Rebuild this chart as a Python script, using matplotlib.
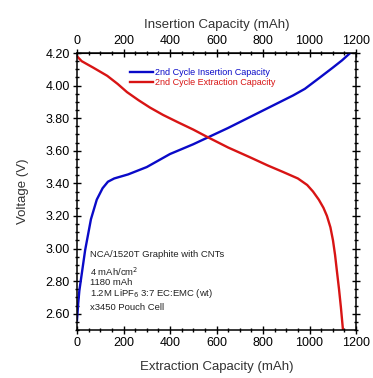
import matplotlib
matplotlib.use("Agg")
import matplotlib.pyplot as plt
from matplotlib.ticker import MultipleLocator

plt.rcParams['font.family'] = ['Liberation Sans', 'DejaVu Sans']

# 2nd cycle insertion (top axis)
ins_cap = [0, 5, 10, 20, 35, 60, 85, 110, 133, 160, 220, 300, 350, 400, 450, 500,
           560, 650, 720, 790, 860, 930, 980, 1045, 1100, 1140, 1175]
ins_v = [2.56, 2.66, 2.74, 2.84, 2.99, 3.18, 3.30, 3.37, 3.41, 3.43, 3.455, 3.50,
         3.54, 3.58, 3.61, 3.64, 3.68, 3.74, 3.79, 3.84, 3.89, 3.94, 3.98, 4.05,
         4.11, 4.155, 4.20]

# 2nd cycle extraction (bottom axis)
ext_cap = [0, 20, 70, 130, 175, 215, 265, 314, 370, 434, 500, 560, 650, 744, 820,
           886, 950, 990, 1015, 1040, 1060, 1075, 1090, 1101, 1110, 1118, 1127,
           1135, 1144]
ext_v = [4.18, 4.15, 4.11, 4.06, 4.01, 3.96, 3.91, 3.865, 3.82, 3.775, 3.73, 3.685,
         3.62, 3.56, 3.51, 3.47, 3.43, 3.39, 3.35, 3.30, 3.25, 3.20, 3.13, 3.05,
         2.96, 2.86, 2.75, 2.64, 2.50]

x_ticks = [0, 200, 400, 600, 800, 1000, 1200]
y_ticks = [2.60, 2.80, 3.00, 3.20, 3.40, 3.60, 3.80, 4.00, 4.20]

info = ["NCA/1520T Graphite with CNTs",
        "4 mAh/cm$^2$",
        "1180 mAh",
        "1.2M LiPF$_6$ 3:7 EC:EMC (wt)",
        "x3450 Pouch Cell"]

W, H = 373, 378
fig = plt.figure(figsize=(W / 100, H / 100), dpi=100)
ax = fig.add_axes([77 / W, 1 - 330 / H, 279 / W, 277 / H])

ax.plot(ins_cap, ins_v, color='#0a0ac8', lw=1.7, label='2nd Cycle Insertion Capacity')
ax.plot(ext_cap, ext_v, color='#d81414', lw=1.7, label='2nd Cycle Extraction Capacity')

ax.set_xlim(0, 1200)
ax.set_ylim(2.50, 4.20)
ax.set_xticks(x_ticks)
ax.set_yticks(y_ticks)
ax.set_yticklabels(['%.2f' % v for v in y_ticks])
ax.xaxis.set_minor_locator(MultipleLocator(50))
ax.yaxis.set_minor_locator(MultipleLocator(0.05))
ax.tick_params(which='both', direction='inout', labelsize=9, right=True, pad=2)
ax.tick_params(which='major', length=6, width=1)
ax.tick_params(which='minor', length=3.5, width=1)
for s in ax.spines.values():
    s.set_linewidth(1.1)

top = ax.secondary_xaxis('top')
top.set_xticks(x_ticks)
top.xaxis.set_minor_locator(MultipleLocator(50))
top.tick_params(which='both', direction='inout', labelsize=9, pad=1)
top.tick_params(which='major', length=6, width=1)
top.tick_params(which='minor', length=3.5, width=1)
top.set_xlabel('Insertion Capacity (mAh)', fontsize=9.5, color='#333333', labelpad=5)

ax.set_xlabel('Extraction Capacity (mAh)', fontsize=9.5, color='#333333', labelpad=9)
ax.set_ylabel('Voltage (V)', fontsize=9.5, color='#333333', labelpad=12)

ax.legend(loc='upper left', bbox_to_anchor=(0.19, 0.945), frameon=False,
          fontsize=6.5, handlelength=2.6, handletextpad=0.2, labelspacing=0.1,
          borderpad=0, borderaxespad=0, labelcolor='linecolor')

y0 = 0.273
for i, line in enumerate(info):
    dy = [0, 0.062, 0.102, 0.142, 0.193][i]
    ax.text(0.045, y0 - dy, line, transform=ax.transAxes, fontsize=6.8,
            color='#222222', va='center')

fig.savefig('out.png', dpi=100)
